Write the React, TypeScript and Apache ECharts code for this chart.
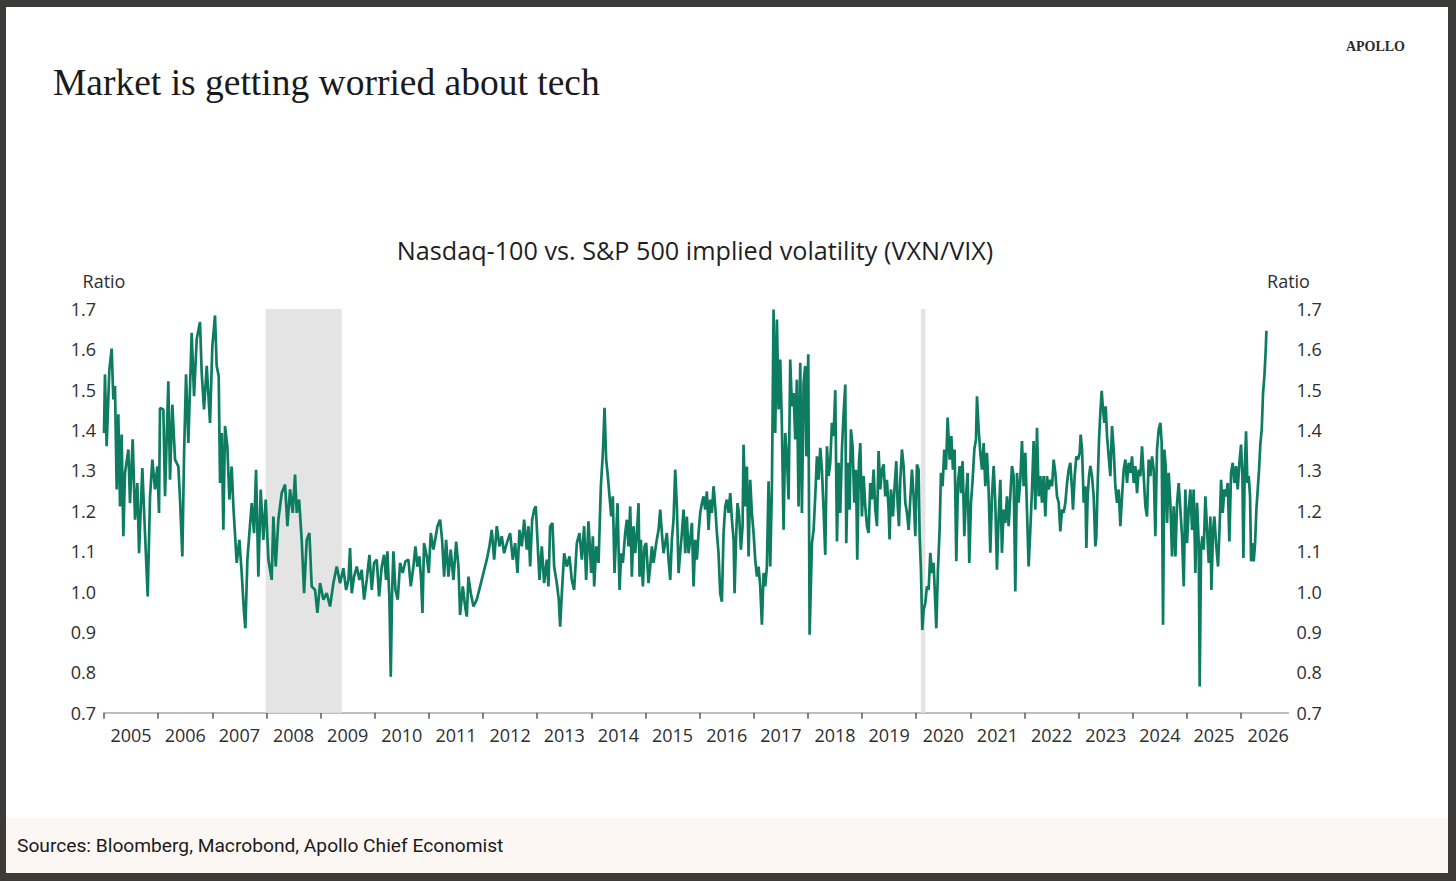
import React, { useEffect, useRef } from "react";
import * as echarts from "echarts";

// ---- Data (decimal year, VXN/VIX ratio) ----
const yearTicks = [2005, 2006, 2007, 2008, 2009, 2010, 2011, 2012, 2013, 2014, 2015, 2016, 2017, 2018, 2019, 2020, 2021, 2022, 2023, 2024, 2025, 2026];
const recessionBands: [number, number][] = [
  [2007.985, 2009.39],
  [2020.085, 2020.17],
];

const ratio2005to2007: [number, number][] = [
  [2005.0, 1.393], [2005.018, 1.538], [2005.049, 1.36], [2005.099, 1.55], [2005.142, 1.602], [2005.172, 1.476], [2005.203, 1.509], [2005.234, 1.253], [2005.265, 1.439], [2005.296, 1.211], [2005.326, 1.389], [2005.357, 1.137], [2005.388, 1.294], [2005.45, 1.352], [2005.48, 1.219], [2005.53, 1.377], [2005.573, 1.178], [2005.616, 1.269], [2005.647, 1.095], [2005.708, 1.306], [2005.757, 1.145], [2005.807, 0.988], [2005.85, 1.236], [2005.893, 1.327], [2005.942, 1.253], [2005.985, 1.31],
  [2006.016, 1.195], [2006.034, 1.455], [2006.096, 1.451], [2006.127, 1.236], [2006.188, 1.521], [2006.219, 1.277], [2006.262, 1.463], [2006.312, 1.327], [2006.373, 1.31], [2006.404, 1.228], [2006.447, 1.087], [2006.478, 1.335], [2006.515, 1.538], [2006.558, 1.368], [2006.619, 1.641], [2006.663, 1.484], [2006.712, 1.625], [2006.773, 1.668], [2006.804, 1.542], [2006.847, 1.451], [2006.897, 1.559], [2006.958, 1.418],
  [2007.001, 1.608], [2007.05, 1.684], [2007.081, 1.559], [2007.118, 1.534], [2007.143, 1.269], [2007.174, 1.393], [2007.204, 1.153], [2007.235, 1.41], [2007.278, 1.36], [2007.315, 1.228], [2007.358, 1.31], [2007.389, 1.211], [2007.451, 1.071], [2007.5, 1.128], [2007.543, 1.046], [2007.586, 0.947], [2007.611, 0.909], [2007.648, 1.079], [2007.685, 1.145], [2007.728, 1.219], [2007.771, 1.145], [2007.808, 1.302], [2007.851, 1.037], [2007.894, 1.253], [2007.943, 1.128], [2007.986, 1.228],
];

const ratio2008to2009: [number, number][] = [
  [2008.036, 1.079], [2008.097, 1.029], [2008.128, 1.186], [2008.171, 1.062], [2008.22, 1.178], [2008.282, 1.244], [2008.344, 1.265], [2008.387, 1.162], [2008.436, 1.253], [2008.485, 1.195], [2008.528, 1.29], [2008.559, 1.195], [2008.603, 1.228], [2008.651, 1.128], [2008.695, 0.996], [2008.744, 1.128], [2008.793, 1.145], [2008.836, 1.013], [2008.898, 1.004], [2008.941, 0.947], [2008.99, 1.021],
  [2009.052, 0.98], [2009.113, 0.996], [2009.175, 0.963], [2009.236, 1.021], [2009.298, 1.062], [2009.36, 1.021], [2009.421, 1.058], [2009.471, 1.004], [2009.514, 1.029], [2009.544, 1.108], [2009.575, 0.996], [2009.618, 1.037], [2009.668, 1.062], [2009.717, 1.029], [2009.76, 1.054], [2009.803, 0.98], [2009.852, 1.029], [2009.902, 1.091], [2009.945, 1.004], [2009.988, 1.071],
];

const ratio2010to2013: [number, number][] = [
  [2010.037, 1.079], [2010.08, 0.988], [2010.129, 1.062], [2010.173, 1.091], [2010.209, 1.029], [2010.234, 1.1], [2010.271, 0.98], [2010.296, 0.789], [2010.32, 0.996], [2010.345, 1.1], [2010.382, 1.004], [2010.425, 0.98], [2010.468, 1.071], [2010.517, 1.046], [2010.567, 1.075], [2010.622, 1.079], [2010.665, 1.013], [2010.714, 1.062], [2010.751, 1.112], [2010.788, 1.062], [2010.825, 1.087], [2010.856, 1.029], [2010.881, 0.947], [2010.911, 1.12], [2010.961, 1.087], [2010.998, 1.046],
  [2011.035, 1.145], [2011.084, 1.104], [2011.115, 1.128], [2011.158, 1.162], [2011.207, 1.178], [2011.244, 1.128], [2011.281, 1.037], [2011.318, 1.128], [2011.361, 1.037], [2011.404, 1.104], [2011.453, 1.029], [2011.503, 1.124], [2011.546, 1.062], [2011.576, 0.942], [2011.626, 1.013], [2011.669, 0.963], [2011.7, 0.938], [2011.73, 1.037], [2011.774, 0.996], [2011.823, 0.963], [2011.884, 0.98], [2011.946, 1.013],
  [2012.007, 1.046], [2012.069, 1.079], [2012.118, 1.112], [2012.161, 1.153], [2012.205, 1.079], [2012.254, 1.162], [2012.303, 1.112], [2012.346, 1.137], [2012.389, 1.095], [2012.439, 1.12], [2012.5, 1.145], [2012.549, 1.079], [2012.593, 1.12], [2012.636, 1.046], [2012.673, 1.153], [2012.716, 1.112], [2012.759, 1.178], [2012.808, 1.104], [2012.839, 1.162], [2012.87, 1.062], [2012.907, 1.178], [2012.944, 1.203], [2012.974, 1.211],
  [2013.005, 1.128], [2013.042, 1.029], [2013.085, 1.112], [2013.128, 1.021], [2013.177, 1.079], [2013.208, 1.013], [2013.239, 1.162], [2013.282, 1.17], [2013.313, 1.062], [2013.362, 1.021], [2013.399, 0.98], [2013.424, 0.913], [2013.455, 0.996], [2013.498, 1.095], [2013.547, 1.062], [2013.596, 1.087], [2013.639, 1.029], [2013.682, 1.004], [2013.732, 1.12], [2013.781, 1.145], [2013.824, 1.079], [2013.867, 1.162], [2013.904, 1.029], [2013.947, 1.174], [2013.997, 1.046],
];

const ratio2014to2017: [number, number][] = [
  [2014.028, 1.137], [2014.053, 1.013], [2014.09, 1.112], [2014.133, 1.071], [2014.176, 1.261], [2014.213, 1.344], [2014.244, 1.455], [2014.274, 1.327], [2014.299, 1.294], [2014.336, 1.236], [2014.367, 1.186], [2014.397, 1.236], [2014.428, 1.046], [2014.459, 1.145], [2014.484, 1.219], [2014.521, 1.004], [2014.551, 1.095], [2014.582, 1.071], [2014.625, 1.145], [2014.656, 1.178], [2014.687, 1.112], [2014.718, 1.211], [2014.748, 1.037], [2014.779, 1.162], [2014.81, 1.095], [2014.841, 1.145], [2014.872, 1.219], [2014.89, 1.037], [2014.915, 1.128], [2014.952, 1.013], [2014.982, 1.112],
  [2015.013, 1.12], [2015.056, 1.021], [2015.087, 1.062], [2015.118, 1.112], [2015.149, 1.071], [2015.198, 1.12], [2015.241, 1.153], [2015.272, 1.203], [2015.303, 1.145], [2015.333, 1.095], [2015.364, 1.12], [2015.395, 1.145], [2015.426, 1.079], [2015.457, 1.029], [2015.487, 1.128], [2015.518, 1.178], [2015.549, 1.302], [2015.58, 1.211], [2015.611, 1.046], [2015.641, 1.095], [2015.672, 1.145], [2015.703, 1.203], [2015.734, 1.095], [2015.764, 1.186], [2015.795, 1.095], [2015.826, 1.128], [2015.857, 1.17], [2015.888, 1.013], [2015.918, 1.128], [2015.949, 1.079], [2015.98, 1.145],
  [2016.011, 1.195], [2016.042, 1.219], [2016.072, 1.236], [2016.103, 1.203], [2016.134, 1.248], [2016.165, 1.153], [2016.195, 1.228], [2016.226, 1.195], [2016.257, 1.261], [2016.288, 1.211], [2016.319, 1.145], [2016.349, 1.095], [2016.38, 0.996], [2016.411, 0.975], [2016.442, 1.145], [2016.473, 1.211], [2016.503, 1.228], [2016.534, 1.195], [2016.565, 1.244], [2016.596, 1.178], [2016.627, 1.128], [2016.645, 0.996], [2016.676, 1.145], [2016.7, 1.219], [2016.731, 1.186], [2016.762, 1.104], [2016.793, 1.162], [2016.811, 1.364], [2016.842, 1.211], [2016.873, 1.31], [2016.904, 1.087], [2016.934, 1.277], [2016.965, 1.195], [2016.996, 1.145],
  [2017.027, 1.079], [2017.058, 1.037], [2017.088, 1.062], [2017.119, 1.013], [2017.15, 0.918], [2017.181, 1.046], [2017.211, 1.013], [2017.242, 1.062], [2017.273, 1.273], [2017.304, 1.062], [2017.335, 1.261], [2017.365, 1.699], [2017.396, 1.393], [2017.427, 1.674], [2017.458, 1.451], [2017.489, 1.575], [2017.519, 1.41], [2017.55, 1.153], [2017.581, 1.393], [2017.612, 1.335], [2017.643, 1.228], [2017.673, 1.575], [2017.704, 1.459], [2017.735, 1.492], [2017.766, 1.377], [2017.796, 1.525], [2017.827, 1.211], [2017.858, 1.567], [2017.889, 1.195], [2017.92, 1.517], [2017.95, 1.559], [2017.969, 1.335],
];

const ratio2018to2021: [number, number][] = [
  [2018.006, 1.588], [2018.031, 0.893], [2018.074, 1.12], [2018.105, 1.153], [2018.135, 1.236], [2018.166, 1.335], [2018.197, 1.277], [2018.228, 1.356], [2018.258, 1.302], [2018.289, 1.203], [2018.32, 1.091], [2018.351, 1.36], [2018.382, 1.286], [2018.412, 1.319], [2018.443, 1.418], [2018.474, 1.385], [2018.505, 1.499], [2018.536, 1.124], [2018.566, 1.319], [2018.597, 1.195], [2018.628, 1.352], [2018.659, 1.443], [2018.69, 1.513], [2018.708, 1.12], [2018.739, 1.319], [2018.77, 1.203], [2018.794, 1.402], [2018.825, 1.36], [2018.856, 1.22], [2018.887, 1.302], [2018.911, 1.079], [2018.942, 1.319], [2018.967, 1.368], [2018.997, 1.186],
  [2019.028, 1.286], [2019.059, 1.211], [2019.09, 1.162], [2019.121, 1.145], [2019.151, 1.269], [2019.182, 1.228], [2019.213, 1.302], [2019.244, 1.203], [2019.275, 1.162], [2019.305, 1.348], [2019.336, 1.253], [2019.367, 1.302], [2019.398, 1.315], [2019.428, 1.236], [2019.459, 1.277], [2019.49, 1.203], [2019.508, 1.129], [2019.533, 1.253], [2019.57, 1.186], [2019.601, 1.261], [2019.632, 1.323], [2019.656, 1.22], [2019.681, 1.162], [2019.706, 1.277], [2019.736, 1.352], [2019.767, 1.311], [2019.798, 1.22], [2019.829, 1.195], [2019.86, 1.153], [2019.89, 1.228], [2019.921, 1.302], [2019.952, 1.236], [2019.983, 1.137],
  [2020.013, 1.315], [2020.044, 1.302], [2020.063, 1.137], [2020.087, 1.054], [2020.112, 0.905], [2020.137, 0.955], [2020.167, 0.971], [2020.198, 1.013], [2020.229, 1.004], [2020.26, 1.096], [2020.291, 1.046], [2020.321, 1.071], [2020.352, 0.971], [2020.371, 0.909], [2020.401, 1.054], [2020.432, 1.153], [2020.457, 1.294], [2020.487, 1.261], [2020.518, 1.352], [2020.549, 1.302], [2020.58, 1.431], [2020.617, 1.327], [2020.648, 1.385], [2020.678, 1.302], [2020.709, 1.352], [2020.74, 1.075], [2020.771, 1.269], [2020.802, 1.311], [2020.826, 1.244], [2020.857, 1.323], [2020.888, 1.137], [2020.919, 1.236], [2020.949, 1.294], [2020.98, 1.071],
  [2021.011, 1.22], [2021.042, 1.277], [2021.073, 1.352], [2021.103, 1.377], [2021.122, 1.484], [2021.153, 1.402], [2021.183, 1.344], [2021.214, 1.302], [2021.245, 1.368], [2021.276, 1.261], [2021.306, 1.344], [2021.337, 1.253], [2021.368, 1.096], [2021.399, 1.236], [2021.43, 1.311], [2021.46, 1.22], [2021.491, 1.054], [2021.522, 1.186], [2021.553, 1.277], [2021.583, 1.096], [2021.614, 1.203], [2021.645, 1.17], [2021.676, 1.236], [2021.707, 1.162], [2021.737, 1.236], [2021.768, 1.311], [2021.799, 1.286], [2021.83, 1.0], [2021.861, 1.294], [2021.891, 1.22], [2021.922, 1.277], [2021.953, 1.373], [2021.984, 1.261],
];

const ratio2022to2026: [number, number][] = [
  [2022.015, 1.344], [2022.045, 1.203], [2022.076, 1.062], [2022.107, 1.153], [2022.138, 1.253], [2022.168, 1.373], [2022.199, 1.203], [2022.23, 1.406], [2022.261, 1.236], [2022.292, 1.286], [2022.322, 1.22], [2022.353, 1.286], [2022.384, 1.186], [2022.415, 1.286], [2022.446, 1.253], [2022.477, 1.277], [2022.508, 1.261], [2022.538, 1.327], [2022.569, 1.294], [2022.6, 1.236], [2022.631, 1.22], [2022.661, 1.149], [2022.692, 1.203], [2022.723, 1.195], [2022.754, 1.22], [2022.785, 1.269], [2022.815, 1.302], [2022.846, 1.319], [2022.877, 1.253], [2022.895, 1.203], [2022.926, 1.286], [2022.957, 1.335], [2022.988, 1.327],
  [2023.019, 1.344], [2023.037, 1.389], [2023.062, 1.352], [2023.093, 1.22], [2023.123, 1.261], [2023.142, 1.108], [2023.166, 1.236], [2023.191, 1.286], [2023.216, 1.311], [2023.246, 1.286], [2023.277, 1.236], [2023.308, 1.112], [2023.326, 1.137], [2023.351, 1.269], [2023.376, 1.377], [2023.4, 1.443], [2023.425, 1.497], [2023.45, 1.451], [2023.474, 1.418], [2023.499, 1.459], [2023.524, 1.385], [2023.554, 1.335], [2023.585, 1.286], [2023.616, 1.41], [2023.647, 1.352], [2023.677, 1.261], [2023.708, 1.22], [2023.739, 1.253], [2023.77, 1.162], [2023.801, 1.236], [2023.831, 1.302], [2023.862, 1.327], [2023.893, 1.269], [2023.924, 1.319], [2023.955, 1.294], [2023.985, 1.335],
  [2024.016, 1.269], [2024.047, 1.311], [2024.078, 1.244], [2024.108, 1.302], [2024.139, 1.286], [2024.17, 1.36], [2024.201, 1.286], [2024.232, 1.211], [2024.262, 1.186], [2024.293, 1.327], [2024.324, 1.286], [2024.355, 1.335], [2024.386, 1.302], [2024.416, 1.137], [2024.447, 1.352], [2024.478, 1.402], [2024.509, 1.418], [2024.533, 1.368], [2024.558, 0.918], [2024.583, 1.352], [2024.607, 1.311], [2024.632, 1.17], [2024.663, 1.294], [2024.693, 1.22], [2024.724, 1.087], [2024.755, 1.211], [2024.786, 1.087], [2024.817, 1.22], [2024.847, 1.269], [2024.878, 1.203], [2024.909, 1.137], [2024.94, 1.013], [2024.97, 1.253],
  [2025.001, 1.12], [2025.032, 1.203], [2025.063, 1.253], [2025.094, 1.153], [2025.124, 1.253], [2025.155, 1.046], [2025.186, 1.22], [2025.217, 1.12], [2025.235, 0.765], [2025.26, 1.104], [2025.285, 1.137], [2025.309, 1.104], [2025.34, 1.236], [2025.371, 1.153], [2025.402, 1.071], [2025.432, 1.186], [2025.451, 1.004], [2025.482, 1.153], [2025.506, 1.186], [2025.537, 1.12], [2025.574, 1.062], [2025.605, 1.17], [2025.63, 1.277], [2025.66, 1.195], [2025.691, 1.253], [2025.722, 1.236], [2025.753, 1.269], [2025.783, 1.124], [2025.814, 1.294], [2025.845, 1.319], [2025.876, 1.269], [2025.907, 1.311], [2025.937, 1.253], [2025.968, 1.319], [2025.999, 1.364],
  [2026.024, 1.286], [2026.042, 1.083], [2026.067, 1.302], [2026.091, 1.397], [2026.116, 1.269], [2026.141, 1.286], [2026.165, 1.236], [2026.184, 1.075], [2026.208, 1.12], [2026.233, 1.075], [2026.258, 1.12], [2026.282, 1.203], [2026.307, 1.253], [2026.331, 1.302], [2026.356, 1.368], [2026.381, 1.402], [2026.405, 1.492], [2026.43, 1.534], [2026.455, 1.6], [2026.467, 1.646],
];

const ratioSeries = [
  ...ratio2005to2007,
  ...ratio2008to2009,
  ...ratio2010to2013,
  ...ratio2014to2017,
  ...ratio2018to2021,
  ...ratio2022to2026,
];

const LINE_COLOR = "#0e7c61";
const SANS = "'Open Sans', 'Noto Sans', sans-serif";

export default function App() {
  const ref = useRef<HTMLDivElement>(null);

  useEffect(() => {
    if (!ref.current) return;
    const chart = echarts.init(ref.current, null, { renderer: "svg" });

    const yAxisBase = {
      type: "value",
      min: 0.7,
      max: 1.7,
      interval: 0.1,
      name: "Ratio",
      nameLocation: "end",
      nameGap: 19,
      nameTextStyle: { color: "#2e2e2e", fontSize: 18, fontFamily: SANS, align: "center" },
      axisLine: { show: false },
      axisTick: { show: false },
      splitLine: { show: false },
      axisLabel: {
        color: "#2e2e2e",
        fontSize: 18,
        fontFamily: SANS,
        margin: 8,
        formatter: (v: number) => v.toFixed(1),
      },
    };

    chart.setOption({
      animation: false,
      grid: { left: 104, top: 309, width: 1184.5, height: 403.7, containLabel: false },
      xAxis: {
        type: "value",
        min: 2005,
        max: 2026.875,
        axisLine: { show: true, onZero: false, lineStyle: { color: "#a8a8a8", width: 1.5 } },
        axisTick: {
          show: true,
          customValues: yearTicks,
          length: 6,
          lineStyle: { color: "#5a5a5a", width: 1.5 },
        },
        axisLabel: {
          customValues: yearTicks.map((y) => y + 0.5),
          formatter: (v: number) => String(Math.floor(v)),
          color: "#2e2e2e",
          fontSize: 18,
          fontFamily: SANS,
          margin: 13,
        },
        splitLine: { show: false },
      },
      yAxis: [
        { ...yAxisBase, position: "left" },
        { ...yAxisBase, position: "right" },
      ],
      series: [
        {
          type: "line",
          data: [],
          silent: true,
          z: 1,
          markArea: {
            silent: true,
            itemStyle: { color: "#e3e4e3" },
            data: recessionBands.map(([a, b]) => [{ xAxis: a }, { xAxis: b }]),
          },
        },
        {
          type: "line",
          data: ratioSeries,
          showSymbol: false,
          symbol: "none",
          silent: true,
          z: 3,
          lineStyle: { color: LINE_COLOR, width: 2.7 },
          itemStyle: { color: LINE_COLOR },
        },
      ],
      graphic: [
        {
          type: "text",
          x: 53,
          y: 82,
          style: {
            text: "Market is getting worried about tech",
            fill: "#1a1a1a",
            fontSize: 37.5,
            fontFamily: "'Liberation Serif', 'DejaVu Serif', serif",
            textAlign: "left",
            align: "left",
            textVerticalAlign: "middle",
            verticalAlign: "middle",
          },
        },
        {
          type: "text",
          x: 1405,
          y: 46,
          style: {
            text: "APOLLO",
            fill: "#2b2b2b",
            fontSize: 14,
            fontWeight: 600,
            fontFamily: "'Liberation Serif', 'DejaVu Serif', serif",
            textAlign: "right",
            align: "right",
            textVerticalAlign: "middle",
            verticalAlign: "middle",
          },
        },
        {
          type: "text",
          x: 695,
          y: 250,
          style: {
            text: "Nasdaq-100 vs. S&P 500 implied volatility (VXN/VIX)",
            fill: "#1f1f1f",
            fontSize: 25.2,
            fontFamily: SANS,
            textAlign: "center",
            align: "center",
            textVerticalAlign: "middle",
            verticalAlign: "middle",
          },
        },
        {
          type: "text",
          x: 17,
          y: 845,
          style: {
            text: "Sources: Bloomberg, Macrobond, Apollo Chief Economist",
            fill: "#1a1a1a",
            fontSize: 19.2,
            fontFamily: "Roboto, 'Noto Sans', sans-serif",
            textAlign: "left",
            align: "left",
            textVerticalAlign: "middle",
            verticalAlign: "middle",
          },
        },
      ],
    });

    return () => chart.dispose();
  }, []);

  return (
    <div style={{ position: "fixed", left: 0, top: 0, width: 1456, height: 881, background: "#3c3b3a", overflow: "hidden" }}>
      <div style={{ position: "absolute", left: 6, top: 7, width: 1442, height: 866, background: "#ffffff" }} />
      <div style={{ position: "absolute", left: 6, top: 818, width: 1442, height: 55, background: "#fcf7f3" }} />
      <div ref={ref} style={{ position: "absolute", left: 0, top: 0, width: 1456, height: 881 }} />
    </div>
  );
}
